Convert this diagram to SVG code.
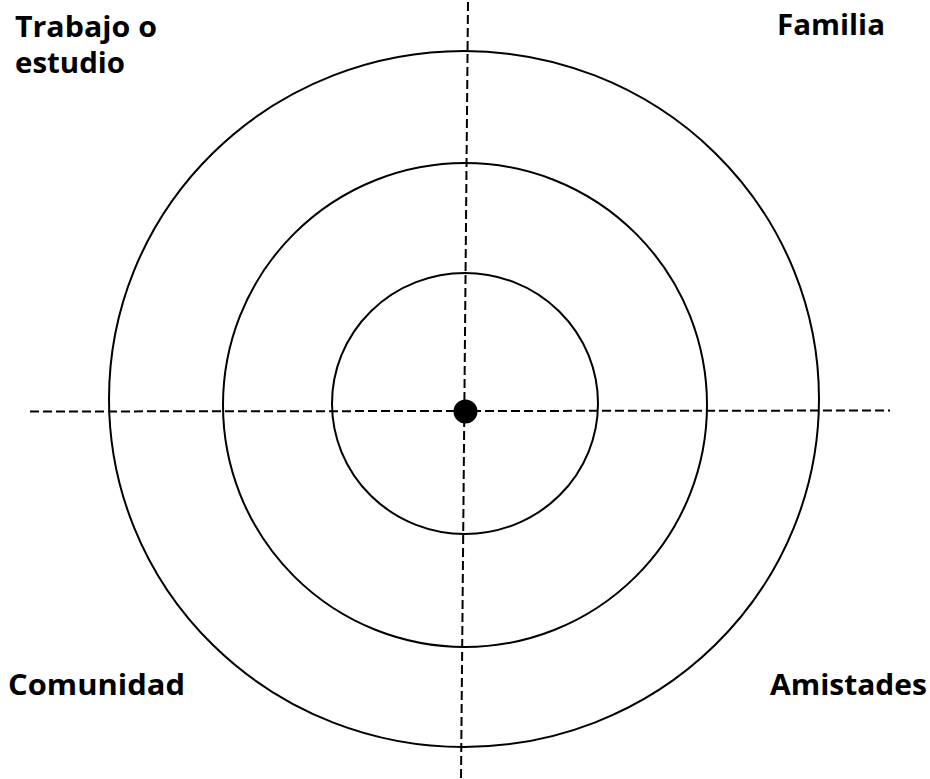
<svg xmlns="http://www.w3.org/2000/svg" width="930" height="779" viewBox="0 0 930 779">
<style>
.ring{fill:none;stroke:#000;stroke-width:2}
.axis{stroke:#000;stroke-width:2;stroke-dasharray:9 4;fill:none}
.lbl{font-family:"Open Sans","DejaVu Sans",sans-serif;font-weight:bold;font-size:29px;fill:#000}
</style>
<rect width="930" height="779" fill="#fff"/>
<g id="rings">
<ellipse id="outer" class="ring" cx="464" cy="399" rx="355" ry="348"/>
<ellipse id="middle" class="ring" cx="465" cy="405" rx="242" ry="242"/>
<ellipse id="inner" class="ring" cx="465" cy="403.5" rx="133" ry="130.5"/>
</g>
<g id="connectors">
<line class="axis" x1="468" y1="2" x2="461" y2="779"/>
<line class="axis" x1="30" y1="411.5" x2="890" y2="410.5"/>
</g>
<g id="center"><circle cx="465.5" cy="411.5" r="12" fill="#000"/></g>
<g id="trabajo"><text class="lbl" x="15" y="37" textLength="142" lengthAdjust="spacingAndGlyphs">Trabajo o</text><text class="lbl" x="15" y="73" textLength="110" lengthAdjust="spacingAndGlyphs">estudio</text></g>
<g id="familia"><text class="lbl" x="777" y="35" textLength="108" lengthAdjust="spacingAndGlyphs">Familia</text></g>
<g id="comunidad"><text class="lbl" x="8" y="695" textLength="177" lengthAdjust="spacingAndGlyphs">Comunidad</text></g>
<g id="amistades"><text class="lbl" x="770" y="695" textLength="157" lengthAdjust="spacingAndGlyphs">Amistades</text></g>
</svg>
